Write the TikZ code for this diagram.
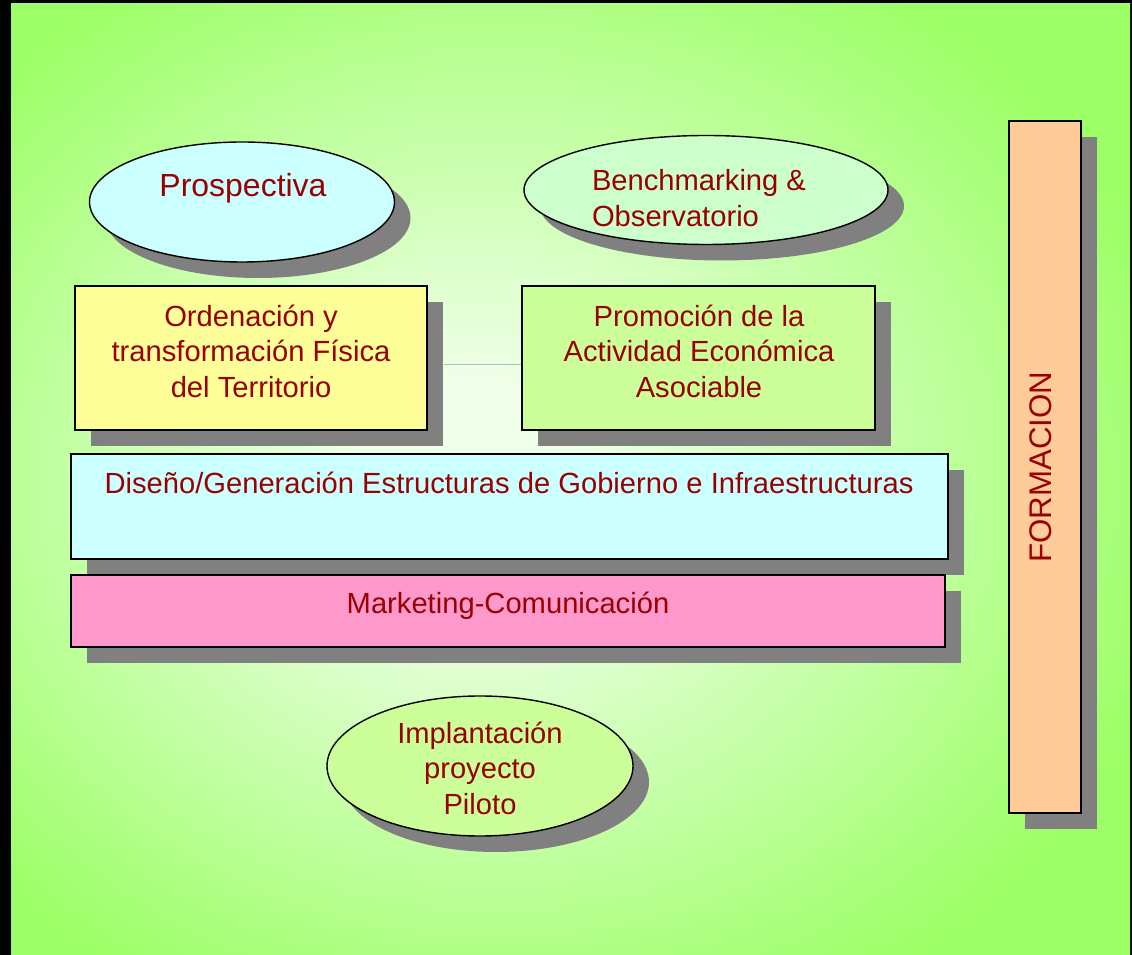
\documentclass[tikz,border=0pt]{standalone}
\usepackage{fontspec}
\setmainfont{Liberation Sans}
\usetikzlibrary{shapes.geometric,shadows}
\definecolor{bggreen}{HTML}{9CFF66}
\definecolor{glow}{HTML}{F0FFEA}
\definecolor{txtred}{HTML}{990000}
\definecolor{shadowgray}{HTML}{808080}
\definecolor{cyanfill}{HTML}{CCFFFF}
\definecolor{mintfill}{HTML}{CCFFCC}
\definecolor{yellowfill}{HTML}{FFFF99}
\definecolor{limefill}{HTML}{CCFF99}
\definecolor{pinkfill}{HTML}{FF99CC}
\definecolor{peachfill}{HTML}{FFCC99}
\pgfdeclareradialshading{bgglow}{\pgfpoint{-5bp}{0bp}}{color(0bp)=(glow); color(5bp)=(glow); color(31bp)=(bggreen); color(70bp)=(bggreen)}
\newcommand{\pxu}{0.02cm}
\begin{document}
\begin{tikzpicture}[x=0.02cm, y=-0.02cm,
		dropgray/.style={drop shadow={shadow xshift=0.32cm, shadow yshift=-0.32cm, fill=shadowgray, opacity=1}},
		boxshape/.style={rectangle, draw=black, line width=1.1pt, inner sep=0pt, dropgray},
		ovalshape/.style={ellipse, draw=black, line width=0.8pt, inner sep=0pt, dropgray},
		lbl/.style={text=txtred, font=\fontsize{16.6}{20.2}\selectfont, align=center, inner sep=0pt},
		linkline/.style={draw=gray!55, line width=0.5pt}
		]
	\useasboundingbox (0,0) rectangle (1132,955);
	\fill[black] (0,0) rectangle (1132,955);
	\shade[shading=bgglow] (11,4) rectangle (1130,955);
	% top row
	\node [ovalshape, fill=cyanfill, minimum width=305*\pxu, minimum height=120*\pxu] (prosp) at (242,202) {};
	\node [lbl, font=\fontsize{18.2}{22}\selectfont] (prosp-txt) at (243,188) {Prospectiva};
	\node [ovalshape, fill=mintfill, minimum width=364*\pxu, minimum height=109*\pxu] (bench) at (706,190) {};
	\node [lbl, align=left] (bench-txt) at (699,198) {Benchmarking \&\\Observatorio};
	% middle boxes
	\node [boxshape, fill=yellowfill, minimum width=352*\pxu, minimum height=144*\pxu] (ord) at (251,358) {};
	\node [lbl] (ord-txt) at (251,351) {Ordenación y\\transformación Física\\del Territorio};
	\node [boxshape, fill=limefill, minimum width=353*\pxu, minimum height=144*\pxu] (prom) at (698.5,358) {};
	\node [lbl] (prom-txt) at (699,351) {Promoción de la\\Actividad Económica\\Asociable};
	\draw [linkline] ([xshift=0.32cm, yshift=-0.12cm]ord.east) -- ([yshift=-0.12cm]prom.west);
	% wide bars
	\node [boxshape, fill=cyanfill, minimum width=877*\pxu, minimum height=105*\pxu] (dis) at (509.5,506.5) {};
	\node [lbl] (dis-txt) at (509,483) {Diseño/Generación Estructuras de Gobierno e Infraestructuras};
	\node [boxshape, fill=pinkfill, minimum width=874*\pxu, minimum height=72*\pxu] (mkt) at (508,611) {};
	\node [lbl] (mkt-txt) at (508,606) {Marketing-Comunicación};
	% bottom
	\node [ovalshape, fill=limefill, minimum width=306*\pxu, minimum height=140*\pxu] (impl) at (480,766) {};
	\node [lbl] (impl-txt) at (480,768) {Implantación\\proyecto\\Piloto};
	% side column
	\node [boxshape, fill=peachfill, minimum width=72*\pxu, minimum height=692*\pxu] (form) at (1045,467) {};
	\node [lbl, font=\fontsize{17.8}{20}\selectfont, rotate=90] (form-txt) at (1041,467) {FORMACION};
\end{tikzpicture}
\end{document}
